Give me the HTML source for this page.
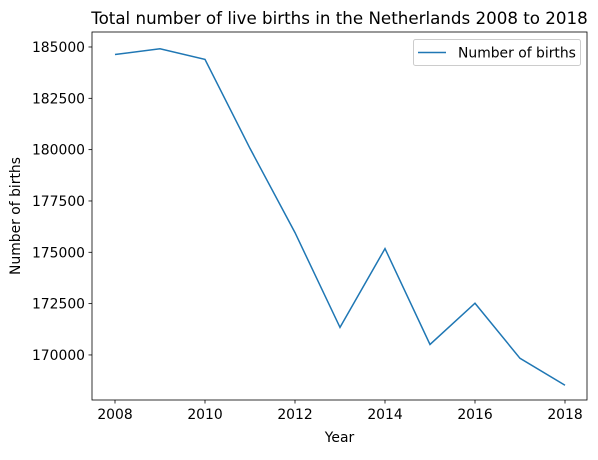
<!DOCTYPE html>
<html><head><meta charset="utf-8"><style>
body{margin:0;background:#fff}
svg text{font-family:"DejaVu Sans","Liberation Sans",sans-serif;fill:#000}
</style></head><body>
<svg id="c" width="598" height="455" xmlns="http://www.w3.org/2000/svg">
<text x="339.5" y="24" font-size="16.7" text-anchor="middle">Total number of live births in the Netherlands 2008 to 2018</text>
<g id="ticks"></g>
<polyline id="line" fill="none" stroke="#1f77b4" stroke-width="1.5"/>
<rect x="92" y="32" width="495" height="368" fill="none" stroke="#000" stroke-width="0.8"/>
<text x="339.5" y="442" font-size="13.9" text-anchor="middle">Year</text>
<text x="20" y="216" font-size="13.9" text-anchor="middle" transform="rotate(-90 20 216)">Number of births</text>
<g>
<rect x="413.5" y="39.5" width="167" height="26" rx="2" fill="#fff" stroke="#ccc"/>
<line x1="418" y1="52.5" x2="446" y2="52.5" stroke="#1f77b4" stroke-width="1.5"/>
<text x="458" y="57.5" font-size="13.9">Number of births</text>
</g>
</svg>
<script>
const years=[2008,2009,2010,2011,2012,2013,2014,2015,2016,2017,2018];
const births=[184634,184915,184397,180060,175959,171341,175181,170510,172520,169836,168525];
const xTicks=[2008,2010,2012,2014,2016,2018];
const yTicks=[170000,172500,175000,177500,180000,182500,185000];
const NS="http://www.w3.org/2000/svg";
const L=92,R=587,T=32,B=400;
const x0=2007.489,x1=2018.489,y0=167806,y1=185730;
const xs=v=>L+(v-x0)/(x1-x0)*(R-L);
const ys=v=>B-(v-y0)/(y1-y0)*(B-T);
document.getElementById('line').setAttribute('points',years.map((y,i)=>xs(y)+','+ys(births[i])).join(' '));
const g=document.getElementById('ticks');
xTicks.forEach(t=>{
 const l=document.createElementNS(NS,'line');
 l.setAttribute('x1',xs(t));l.setAttribute('x2',xs(t));l.setAttribute('y1',B);l.setAttribute('y2',B+3.5);
 l.setAttribute('stroke','#000');l.setAttribute('stroke-width','0.8');
 
 
 g.appendChild(l);
 const tx=document.createElementNS(NS,'text');
 tx.setAttribute('x',xs(t));tx.setAttribute('y',B+19);tx.setAttribute('font-size','13.9');tx.setAttribute('text-anchor','middle');
 tx.textContent=t;
 
 
 g.appendChild(tx);
});
yTicks.forEach(t=>{
 const l=document.createElementNS(NS,'line');
 l.setAttribute('x1',L-3.5);l.setAttribute('x2',L);l.setAttribute('y1',ys(t));l.setAttribute('y2',ys(t));
 l.setAttribute('stroke','#000');l.setAttribute('stroke-width','0.8');
 
 
 g.appendChild(l);
 const tx=document.createElementNS(NS,'text');
 tx.setAttribute('x',L-7);tx.setAttribute('y',ys(t)+5);tx.setAttribute('font-size','13.9');tx.setAttribute('text-anchor','end');
 tx.textContent=t;
 
 
 g.appendChild(tx);
});
</script>
</body></html>
